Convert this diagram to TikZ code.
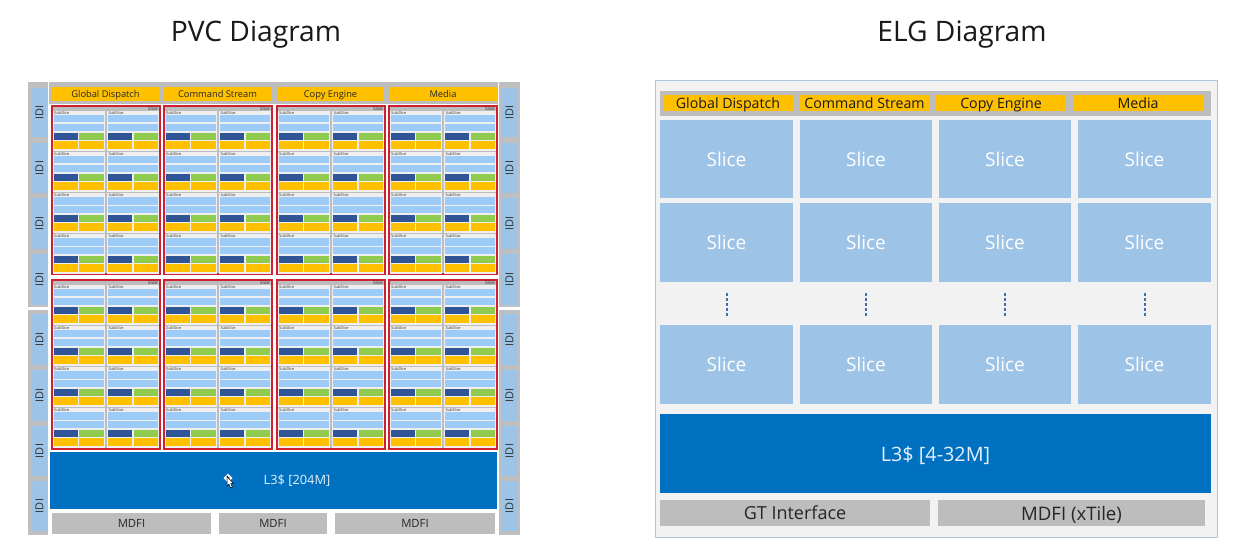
\documentclass[tikz,border=0pt]{standalone}
\usepackage{fontspec}
\setmainfont{Open Sans}
\definecolor{ylw}{HTML}{FFC000}
\definecolor{grayband}{HTML}{BDBDBD}
\definecolor{idiblue}{HTML}{9DC3E6}
\definecolor{ssblue}{HTML}{9CCBF7}
\definecolor{dkblue}{HTML}{2F5597}
\definecolor{grn}{HTML}{8FCB4E}
\definecolor{redl}{HTML}{CF2030}
\definecolor{lthree}{HTML}{0070C0}
\definecolor{panel}{HTML}{F2F2F2}
\definecolor{panelb}{HTML}{A9C8E0}
\definecolor{ssbg}{HTML}{EFEFEF}
\definecolor{elgslice}{HTML}{9DC3E6}
\definecolor{dotc}{HTML}{3F6FB5}
\newcommand{\fz}[1]{\fontsize{#1}{#1}\selectfont}
% \bx{name}{style}{x1}{y1}{x2}{y2}{text}
\newcommand{\bx}[7]{%
  \pgfmathsetmacro{\bw}{#5-#3}\pgfmathsetmacro{\bh}{#6-#4}%
  \pgfmathsetmacro{\cx}{(#3+#5)/2}\pgfmathsetmacro{\cy}{(#4+#6)/2}%
  \node[boxn,#2,minimum width=\bw pt,minimum height=\bh pt] (#1) at (\cx,\cy) {#7};}
\tikzset{
  boxn/.style={inner sep=0pt,outer sep=0pt,rectangle,text depth=0pt},
  titlet/.style={font=\fz{28.2},text=black!90},
  hdrp/.style={fill=ylw,font=\fz{9.3},text=black!85},
  hdre/.style={fill=ylw,font=\fz{14.2},text=black!90},
  idibar/.style={fill=idiblue,font=\fz{11},text=black!80},
  idigray/.style={fill=black!25},
  slicep/.style={fill=grayband,draw=redl,line width=1.8pt},
  ssb/.style={fill=ssbg},
  ssbar/.style={fill=ssblue},
  ssdk/.style={fill=dkblue},
  ssgr/.style={fill=grn},
  ssyl/.style={fill=ylw},
  tiny/.style={inner sep=0pt,font=\fz{3.9},text=black!80},
  tinyb/.style={inner sep=0pt,font=\fz{4.6},text=black!85},
  lthreeb/.style={fill=lthree,text=white!90!lthree},
  mdfip/.style={fill=grayband,font=\fz{11.3},text=black!85},
  mdfie/.style={fill=grayband,font=\fz{18},text=black!85},
  sliceE/.style={fill=elgslice,text=white,font=\fz{19}},
  dotl/.style={draw=dotc,line width=2pt,dash pattern=on 2.5pt off 2.5pt},
}
\begin{document}
\begin{tikzpicture}[x=1pt,y=-1pt]
\useasboundingbox[fill=white] (0,0) rectangle (1248,551);
% titles
\node[titlet] (t1) at (256,35) {PVC Diagram};
\node[titlet] (t2) at (962,35) {ELG Diagram};
% ---------- PVC
\bx{pband}{fill=grayband}{49}{82}{498}{104}{}
\bx{ph1}{hdrp}{52}{87}{159}{101}{Global Dispatch}
\bx{ph2}{hdrp}{164}{87}{271}{101}{Command Stream}
\bx{ph3}{hdrp}{277}{87}{384}{101}{Copy Engine}
\bx{ph4}{hdrp}{389}{87}{497}{101}{Media}
% IDI columns
\bx{ilu}{idigray}{28}{82}{48}{307}{}
\bx{ill}{idigray}{28}{310}{48}{535}{}
\bx{iru}{idigray}{499}{82}{520}{307}{}
\bx{irl}{idigray}{499}{310}{520}{535}{}
\foreach \n/\a/\b in {1/88/137,2/143/193,3/198/249,4/254/305,5/314/365,6/370/421,7/426/476,8/481/531}{
  \bx{il\n}{idibar}{32}{\a}{47}{\b}{\rotatebox{90}{IDI}}
  \bx{ir\n}{idibar}{501}{\a}{518}{\b}{\rotatebox{90}{IDI}}
}
% Slices
\foreach \r/\sy/\ey in {0/106/274,1/280/449}{
  \foreach \c/\sx/\ex in {0/52/160,1/164/272,2/277/385,3/389/497}{
    \bx{sl\r\c}{slicep}{\sx}{\sy}{\ex}{\ey}{}
    \pgfmathsetmacro{\lx}{\ex-2}\pgfmathsetmacro{\ly}{\sy+2.4}
    \node[tinyb,anchor=east] (sllab\r\c) at (\lx,\ly) {Slice};
    \foreach \k in {0,1}{
      \pgfmathsetmacro{\xa}{\sx+1+\k*54.3}
      \foreach \j in {0,1,2,3}{
        \pgfmathsetmacro{\ya}{\sy+5+\j*41.1}
        \pgfmathsetmacro{\xb}{\xa+52}
        \pgfmathsetmacro{\yb}{\ya+39.6}
        \fill[ssb] (\xa,\ya) rectangle (\xb,\yb);
        \pgfmathsetmacro{\xl}{\xa+1}\pgfmathsetmacro{\xr}{\xa+50.5}
        \pgfmathsetmacro{\xm}{\xa+24.6}\pgfmathsetmacro{\xn}{\xa+26.2}
        \pgfmathsetmacro{\ba}{\ya+4}\pgfmathsetmacro{\bb}{\ya+11.3}
        \pgfmathsetmacro{\bc}{\ya+13}\pgfmathsetmacro{\bd}{\ya+20}
        \pgfmathsetmacro{\be}{\ya+21.7}\pgfmathsetmacro{\bf}{\ya+28.7}
        \pgfmathsetmacro{\bg}{\ya+30}\pgfmathsetmacro{\bh}{\ya+37.6}
        \fill[ssbar] (\xl,\ba) rectangle (\xr,\bb);
        \fill[ssbar] (\xl,\bc) rectangle (\xr,\bd);
        \fill[ssdk] (\xl,\be) rectangle (\xm,\bf);
        \fill[ssgr] (\xn,\be) rectangle (\xr,\bf);
        \fill[ssyl] (\xl,\bg) rectangle (\xm,\bh);
        \fill[ssyl] (\xn,\bg) rectangle (\xr,\bh);
        \pgfmathsetmacro{\tx}{\xa+1}\pgfmathsetmacro{\ty}{\ya+2}
        \node[tiny,anchor=west] (ss\r\c\k\j) at (\tx,\ty) {SubSlice};
      }
    }
  }
}
% L3
\bx{pl3}{fill=lthree}{50}{452}{497}{509}{}
\node[text=white!90!lthree,font=\fz{12.8},inner sep=0pt] (pl3t) at (297,481) {L3\$ [204M]};
\bx{pm1}{mdfip}{52}{513}{211}{534}{MDFI}
\bx{pm2}{mdfip}{219}{513}{327}{534}{MDFI}
\bx{pm3}{mdfip}{335}{513}{495}{534}{MDFI}
% cursor
\fill[white] (228,473.5)--(232.5,478)--(228,482.5)--(223.5,478)--cycle;
\fill[black!70] (226.5,475.5) rectangle (228,477) (228,477) rectangle (229.5,478.5) (226.5,478.5) rectangle (228,480);
\draw[fill=white,draw=black,line width=0.5pt] (227,476.5)--(227,486)--(229,484.2)--(230.6,488)--(232.4,487.2)--(230.8,483.6)--(233.4,483.4)--cycle;
% ---------- ELG
\bx{epanel}{fill=panel,draw=panelb,line width=1pt}{655}{81}{1217}{537}{}
\bx{eband}{fill=grayband}{660}{91}{1211}{116}{}
\bx{eh1}{hdre}{663}{95}{793}{111}{Global Dispatch}
\bx{eh2}{hdre}{800}{95}{929}{111}{Command Stream}
\bx{eh3}{hdre}{936}{95}{1066}{111}{Copy Engine}
\bx{eh4}{hdre}{1073}{95}{1203}{111}{Media}
\foreach \c/\xa/\xb in {0/660/793,1/800/932,2/939/1071,3/1078/1211}{
  \foreach \r/\ya/\yb in {0/120/198,1/203/282,2/325/404}{
    \bx{es\c\r}{sliceE}{\xa}{\ya}{\xb}{\yb}{Slice}
  }
  \pgfmathsetmacro{\dx}{(\xa+\xb)/2}
  \coordinate (da\c) at (\dx,293);
  \coordinate (db\c) at (\dx,316);
  \draw[dotl] (da\c) -- (db\c);
}
\bx{el3}{lthreeb,font=\fz{19.8}}{660}{414}{1211}{493}{L3\$ [4-32M]}
\bx{egt}{mdfie}{660}{500}{930}{526}{GT Interface}
\bx{emd}{mdfie,font=\fz{18.6}}{938}{500}{1205}{526}{MDFI (xTile)}
\end{tikzpicture}
\end{document}
